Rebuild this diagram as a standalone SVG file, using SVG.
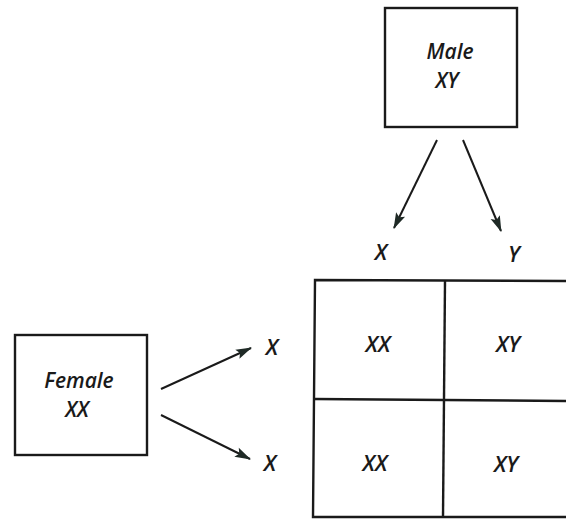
<svg xmlns="http://www.w3.org/2000/svg" width="566" height="521" viewBox="0 0 566 521">
<defs>
<style>
.box{fill:#fff;stroke:#1a1a1a;stroke-width:2.4}
.t{font-family:"Open Sans","Liberation Sans",sans-serif;font-style:italic;font-weight:600;font-size:22px;fill:#1a1a1a;text-anchor:middle}
.n{font-size:21px}
.c{stroke:#1a1a1a;stroke-width:2;fill:none;marker-end:url(#ah)}
.g{stroke:#1a1a1a;stroke-width:2.4;fill:none}
</style>
<marker id="ah" viewBox="0 0 16 10" refX="15" refY="5" markerWidth="16" markerHeight="10" markerUnits="userSpaceOnUse" orient="auto" overflow="visible">
<path d="M0,0 L16,5 L0,10 L3,5 Z" fill="#1f2a26"/>
</marker>
</defs>
<rect width="566" height="521" fill="#fff"/>
<g id="male">
<rect class="box" x="385" y="8" width="132" height="119"/>
<text class="t n" x="450" y="59">Male</text>
<text class="t n" x="447" y="88">XY</text>
</g>
<g id="female">
<rect class="box" x="15" y="335" width="132" height="120"/>
<text class="t n" x="79" y="388">Female</text>
<text class="t n" x="77" y="417">XX</text>
</g>
<g id="connectors">
<path class="c" d="M437,140 L394,228"/>
<path class="c" d="M463,140 L501,231"/>
<path class="c" d="M161,389 L251,348"/>
<path class="c" d="M161,415 L250,459"/>
</g>
<g id="labels">
<text class="t" x="381" y="260">X</text>
<text class="t" x="514" y="262">Y</text>
<text class="t" x="272" y="355">X</text>
<text class="t" x="270" y="471">X</text>
</g>
<g id="grid">
<path class="g" d="M566,281 L315,280 L313,517 L566,517"/>
<path class="g" d="M445,281 L443,517"/>
<path class="g" d="M314,399 L566,401"/>
<text class="t" x="378" y="352">XX</text>
<text class="t" x="508" y="352">XY</text>
<text class="t" x="375" y="471">XX</text>
<text class="t" x="506" y="472">XY</text>
</g>
</svg>
